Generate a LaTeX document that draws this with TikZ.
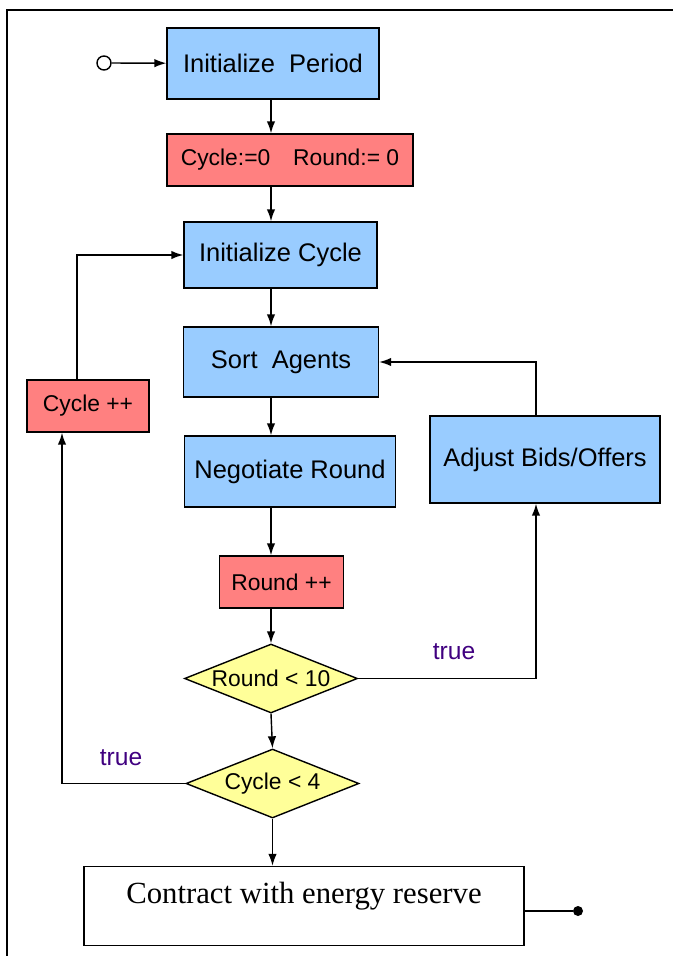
\documentclass[tikz,border=0pt]{standalone}
\usepackage{fontspec}
\setmainfont{Liberation Serif}
\setsansfont{Liberation Sans}
\usepackage{tikz}
\usetikzlibrary{shapes,arrows}
\usetikzlibrary{arrows.meta}
\definecolor{procblue}{RGB}{153,204,255}
\definecolor{assignred}{RGB}{255,128,128}
\definecolor{condyellow}{RGB}{255,255,153}
\definecolor{truepurple}{RGB}{64,0,128}
\tikzset{
  process/.style={draw, fill=procblue, line width=0.8pt, inner sep=0pt, font=\sffamily\fontsize{14.5}{17}\selectfont},
  assign/.style={draw, fill=assignred, line width=0.8pt, inner sep=0pt, font=\sffamily\fontsize{13}{15}\selectfont},
  decision/.style={diamond, aspect=2.5, draw, fill=condyellow, line width=0.8pt, inner sep=0pt, minimum width=3.46cm, minimum height=1.38cm, font=\sffamily\fontsize{13}{15}\selectfont},
  truelabel/.style={text=truepurple, font=\sffamily\fontsize{14}{16}\selectfont},
  flow/.style={-{Latex[length=2.4mm,width=1.7mm]}, line width=0.8pt}
}
\newcommand{\fcprocess}[5] {\node at (#1) (#2) [process, minimum width=#3, minimum height=#4] {#5};}
\newcommand{\fcassign}[5] {\node at (#1) (#2) [assign, minimum width=#3, minimum height=#4] {#5};}
\newcommand{\fcdecision}[3] {\node at (#1) (#2) [decision] {#3};}
\newcommand{\fctransition}[2] {\draw [flow] (#1) -- (#2);}
\newcommand{\fcbend}[3] {\draw [flow] (#1) #3 (#2);}
\begin{document}
\begin{tikzpicture}[x=0.02cm, y=-0.02cm]
\useasboundingbox (0,0) rectangle (673,956);
\draw [line width=1pt] (7,956) -- (7,10) -- (673,10);

\coordinate (spine) at (271,0);
\coordinate (ABline) at (536,0);
\coordinate (CIup) at (77,0);
\coordinate (CIdown) at (62,0);

\node at (104,63) (start) [circle, draw, line width=0.8pt, minimum size=0.28cm, inner sep=0pt] {};
\fcprocess {273,63.5} {IP} {4.24cm} {1.42cm} {Initialize~ Period}
\fcassign  {290,160} {INIT} {4.92cm} {1.04cm} {Cycle:=0\quad Round:= 0}
\fcprocess {280.5,255} {IC} {3.86cm} {1.32cm} {Initialize Cycle}
\fcprocess {281,362} {SA} {3.90cm} {1.40cm} {Sort~ Agents}
\fcprocess {290,471.5} {NR} {4.22cm} {1.42cm} {Negotiate Round}
\fcassign  {281.5,582} {RI} {2.48cm} {1.04cm} {Round ++}
\fcdecision {271,678.5} {RC} {Round < 10}
\fcdecision {272.5,783.5} {CC} {Cycle < 4}
\node at (304,906) (CR) [draw, line width=0.8pt, minimum width=8.80cm, minimum height=1.58cm, align=center, font=\fontsize{17.5}{21}\selectfont] {Contract with energy reserve\\[-6pt]~};
\node at (578,911) (stop) [circle, fill, minimum size=0.2cm, inner sep=0pt] {};
\fcassign  {88,406} {CI} {2.44cm} {1.04cm} {Cycle ++}
\fcprocess {545,459.5} {AB} {4.60cm} {1.74cm} {Adjust Bids/Offers}

\node at (454,652) (T1) [truelabel] {true};
\node at (121,758) (T2) [truelabel] {true};

\fctransition{start}{IP}
\fctransition{IP.south -| spine}{INIT.north -| spine}
\fctransition{INIT.south -| spine}{IC.north -| spine}
\fctransition{IC.south -| spine}{SA.north -| spine}
\fctransition{SA.south -| spine}{NR.north -| spine}
\fctransition{NR.south -| spine}{RI.north -| spine}
\fctransition{RI.south -| spine}{RC.north}
\fctransition{RC.south}{CC.north}
\fctransition{CC.south}{CR.north -| CC.south}
\fcbend{RC.east}{AB.south -| ABline}{-|}
\fcbend{AB.north -| ABline}{SA.east}{|-}
\fcbend{CC.west}{CI.south -| CIdown}{-|}
\fcbend{CI.north -| CIup}{IC.west}{|-}
\draw [line width=0.8pt] (stop -| CR.east) -- (stop);

\end{tikzpicture}
\end{document}
